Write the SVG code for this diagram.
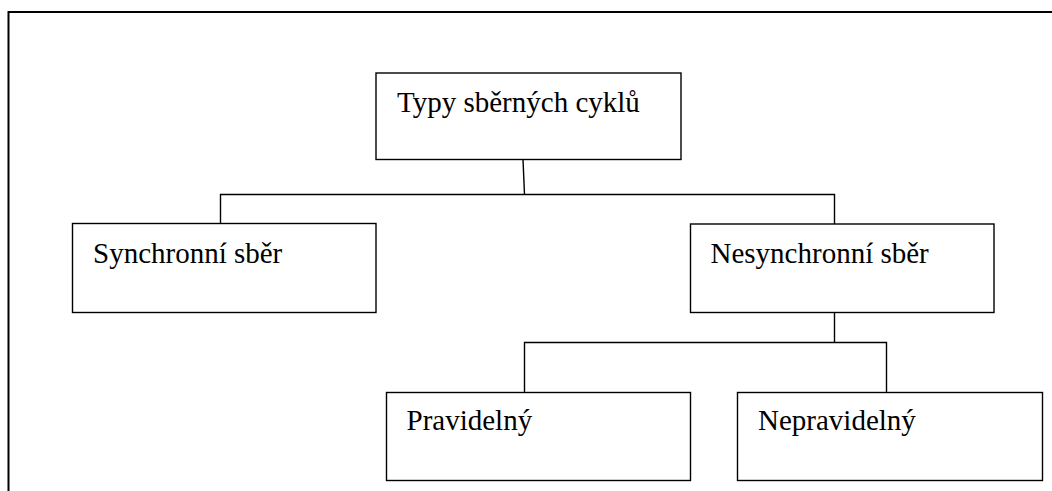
<svg xmlns="http://www.w3.org/2000/svg" width="1052" height="491" viewBox="0 0 1052 491">
<style>
.box{fill:#fff;stroke:#000;stroke-width:1.4}
.lbl{font-family:"Liberation Serif","Times New Roman",serif;font-size:29px;fill:#000}
.conn{fill:none;stroke:#000;stroke-width:1.4}
.frame{fill:none;stroke:#000;stroke-width:2}
</style>
<rect width="1052" height="491" fill="#fff"/>
<path class="frame" d="M8.5,491 V12 H1052"/>
<g id="connectors">
<path class="conn" d="M523,159.5 L524.5,194.5"/>
<path class="conn" d="M220.5,223.5 V194.5 H834.5 V224"/>
<path class="conn" d="M834.5,312.5 V342.5"/>
<path class="conn" d="M524.5,392.5 V342.5 H886.5 V392.5"/>
</g>
<g id="node-typy">
<rect class="box" x="376" y="73" width="305" height="86.5"/>
<text class="lbl" x="397" y="112">Typy sběrných cyklů</text>
</g>
<g id="node-synchronni">
<rect class="box" x="72.5" y="223.5" width="303.5" height="89"/>
<text class="lbl" x="93" y="263">Synchronní sběr</text>
</g>
<g id="node-nesynchronni">
<rect class="box" x="690.5" y="224" width="303.5" height="88.5"/>
<text class="lbl" x="710.5" y="263">Nesynchronní sběr</text>
</g>
<g id="node-pravidelny">
<rect class="box" x="386.5" y="392.5" width="304" height="88"/>
<text class="lbl" x="406.5" y="430">Pravidelný</text>
</g>
<g id="node-nepravidelny">
<rect class="box" x="737.5" y="392.5" width="305" height="88"/>
<text class="lbl" x="758" y="430">Nepravidelný</text>
</g>
</svg>
